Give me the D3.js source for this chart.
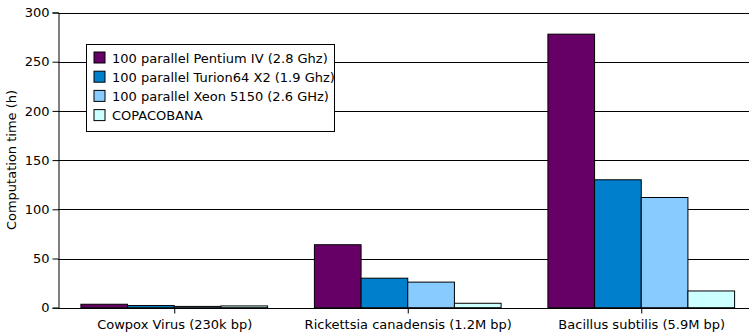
<!DOCTYPE html>
<html><head><meta charset="utf-8">
<script src="https://cdn.jsdelivr.net/npm/d3@7"></script>
<style>
html,body{margin:0;padding:0;background:#fff;overflow:hidden}
text{font-family:"DejaVu Sans",sans-serif;fill:#000}
</style></head>
<body>
<svg id="c" width="749" height="335"></svg>
<script>
// Genomes compared
const categories = ["Cowpox Virus (230k bp)", "Rickettsia canadensis (1.2M bp)", "Bacillus subtilis (5.9M bp)"];
// Platforms (legend order)
const series = ["100 parallel Pentium IV (2.8 Ghz)", "100 parallel Turion64 X2 (1.9 Ghz)", "100 parallel Xeon 5150 (2.6 GHz)", "COPACOBANA"];
const colors = ["#660066", "#0080cc", "#88ccff", "#ccffff"];
// Computation time in hours, per platform, per genome
const pentium = [3.5, 64, 278];
const turion = [2.2, 30, 130];
const xeon = [1.3, 26, 112];
const copacobana = [1.8, 4.5, 17];
const yTicks = [0, 50, 100, 150, 200, 250, 300];

const values = [pentium, turion, xeon, copacobana];
const svg = d3.select("#c");
const m = {left: 58, top: 12.5, bottom: 307.7};
const bandW = 233.5;
const groupW = 186.7;
const x = d3.scaleBand().domain(categories).range([m.left, m.left + bandW * 3]).paddingInner(0).paddingOuter(0);
const y = d3.scaleLinear().domain([0, 300]).range([m.bottom, m.top]);
const sub = d3.scaleBand().domain(series).range([0, groupW]).padding(0);
const groupOff = (bandW - groupW) / 2 - 1;

// gridlines
svg.append("g").selectAll("line").data(yTicks.filter(d => d > 0)).join("line")
  .attr("x1", m.left).attr("x2", 749)
  .attr("y1", d => Math.round(y(d)) + 0.5).attr("y2", d => Math.round(y(d)) + 0.5)
  .attr("stroke", "#000").attr("stroke-width", 1);

// bars
series.forEach((s, si) => {
  svg.append("g").selectAll("rect").data(categories).join("rect")
    .attr("x", c => x(c) + groupOff + sub(s) + 0.5)
    .attr("y", (c, i) => y(values[si][i]))
    .attr("width", sub.bandwidth())
    .attr("height", (c, i) => y(0) - y(values[si][i]))
    .attr("fill", colors[si])
    .attr("stroke", "#000").attr("stroke-width", 1);
});

// y axis
const ya = d3.axisLeft(y).tickValues(yTicks).tickSize(6).tickPadding(3);
const yg = svg.append("g").attr("transform", `translate(${m.left + 0.5},0)`).call(ya);
yg.select(".domain").attr("stroke", "#000");
yg.selectAll(".tick line").attr("stroke", "#000");
yg.selectAll("text").style("font-size", "13px").attr("fill", "#000");
yg.attr("font-family", null);

// x axis
const xa = d3.axisBottom(x).tickSize(5).tickPadding(6).tickSizeOuter(0);
const xg = svg.append("g").attr("transform", `translate(0,${Math.round(m.bottom) + 0.5})`).call(xa);
xg.select(".domain").attr("stroke", "#000").attr("d", `M${m.left},0H749`);
xg.selectAll(".tick line").attr("stroke", "#000");
xg.selectAll("text").style("font-size", "13px").attr("fill", "#000");
xg.attr("font-family", null);

// axis title
svg.append("text").attr("transform", `translate(16,160) rotate(-90)`)
  .attr("text-anchor", "middle").style("font-size", "13px").text("Computation time (h)");

// legend
const lg = svg.append("g").attr("transform", "translate(86.5,44.5)");
lg.append("rect").attr("width", 248).attr("height", 87).attr("fill", "#fff").attr("stroke", "#000");
series.forEach((s, i) => {
  const row = lg.append("g").attr("transform", `translate(7.5,${7.5 + i * 19.2})`);
  row.append("rect").attr("width", 11).attr("height", 11).attr("fill", colors[i]).attr("stroke", "#000");
  row.append("text").attr("x", 18).attr("y", 10.5).style("font-size", "13px").text(s);
});
</script>
</body></html>
